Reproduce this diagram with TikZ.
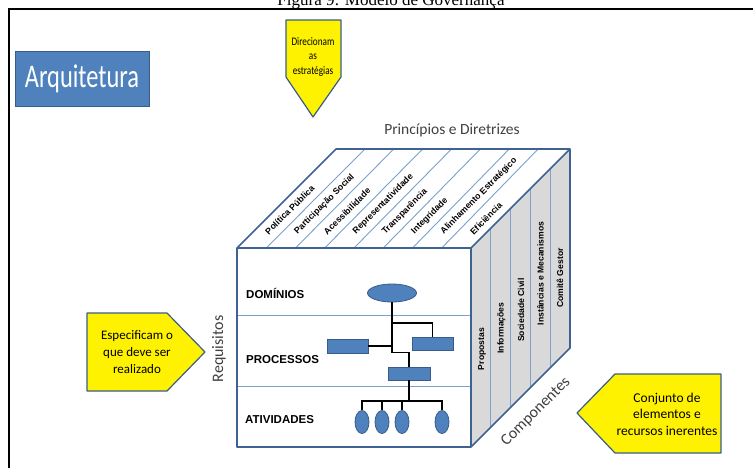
\documentclass[tikz,border=0pt]{standalone}
\usepackage{fontspec}
\setmainfont{Carlito}
\newfontfamily\arialf{Liberation Sans}
\newfontfamily\timesf{Liberation Serif}
\usetikzlibrary{shapes.geometric,calc}
\definecolor{cubeline}{RGB}{62,98,145}
\definecolor{stripline}{RGB}{125,160,205}
\definecolor{facegray}{RGB}{217,217,217}
\definecolor{boxblue}{RGB}{79,129,189}
\definecolor{boxedge}{RGB}{56,93,138}
\definecolor{textgray}{RGB}{64,64,64}

\begin{document}
\begin{tikzpicture}[x=1pt,y=-1pt,
  callout/.style={fill=yellow, draw=boxedge, line width=1.2pt, line join=round},
  calltext/.style={align=center, inner sep=0pt},
  toplabel/.style={rotate=45, anchor=west, inner sep=0pt, font=\arialf\bfseries\fontsize{8.8}{10}\selectfont},
  sidelabel/.style={rotate=90, inner sep=0pt, font=\arialf\bfseries\fontsize{8.6}{10}\selectfont},
  layer/.style={anchor=west, inner sep=0pt, font=\arialf\bfseries\fontsize{11.5}{13}\selectfont},
  blocknode/.style={draw=boxedge, fill=boxblue, line width=0.8pt, inner sep=0pt},
  link/.style={line width=1.6pt},
  axislabel/.style={text=textgray, inner sep=0pt, font=\fontsize{16}{18}\selectfont}]
 \useasboundingbox (0,0) rectangle (753,467);
 \clip (0,0) rectangle (753,467);

 \node (title) [anchor=base, font=\timesf\fontsize{17}{19}\selectfont] at (391,5) {Figura 9: Modelo de Governança};
 \draw[line width=2.6pt] (9,480) -- (9,9) -- (770,9);

 \node (arq) [draw=boxedge, fill=boxblue, line width=1pt, minimum width=134pt, minimum height=55pt] at (82,78.5) {};
 \node (arqtext) [text=white, xscale=.74, font=\fontsize{33}{36}\selectfont] at (arq.center) {Arquitetura};

 \coordinate (fa) at (237,248);
 \coordinate (fb) at (471,248);
 \coordinate (fc) at (471,447);
 \coordinate (fd) at (237,447);
 \coordinate (ba) at (336,149);
 \coordinate (bb) at (570,149);
 \coordinate (bc) at (570,348);

 \fill[white] (fa) -- (ba) -- (bb) -- (fb) -- cycle;
 \fill[facegray] (fb) -- (bb) -- (bc) -- (fc) -- cycle;
 \foreach \i in {1,...,7}
   \draw[stripline, line width=.9pt] ($(fa)+(\i*29.25,0)$) -- ($(ba)+(\i*28.875,0)$);
 \foreach \j in {1,...,4}
   \draw[stripline, line width=.9pt] ($(fb)+(\j*19.8,-\j*19.8)$) -- ($(fc)+(\j*19.8,-\j*19.8)$);
 \draw[stripline, line width=.9pt] (237,315) -- (471,315);
 \draw[stripline, line width=.9pt] (237,386) -- (471,386);
 \draw[cubeline, line width=1.6pt, line join=round] (fa) -- (ba) -- (bb) -- (bc) -- (fc) -- (fd) -- cycle (fa) -- (fb) -- (fc) (fb) -- (bb);

 \foreach \i/\txt in {0/Política Pública, 1/Participação Social, 2/Acessibilidade, 3/Representatividade,
                      4/Transparência, 5/Integridade, 6/Alinhamento Estratégico, 7/Eficiência}
   \node (p\i) [toplabel] at (237+\i*29.25+14.6+15, 248-15) {\txt};

 \node (c1) [sidelabel] at (482,349) {Propostas};
 \node (c2) [sidelabel] at (501.5,328) {Informações};
 \node (c3) [sidelabel] at (521,310) {Sociedade Civil};
 \node (c4) [sidelabel] at (540.5,273.5) {Instâncias e Mecanismos};
 \node (c5) [sidelabel] at (560,278) {Comitê Gestor};

 \node (l1) [layer] at (246,293) {DOMÍNIOS};
 \node (l2) [layer] at (246,360) {PROCESSOS};
 \node (l3) [layer] at (245,420) {ATIVIDADES};

 \node (dom) [blocknode, ellipse, minimum width=49pt, minimum height=18pt] at (392,293) {};
 \node (pl) [blocknode, minimum width=41pt, minimum height=14pt] at (347.5,346) {};
 \node (pr) [blocknode, minimum width=41pt, minimum height=13pt] at (432.5,343.5) {};
 \node (pm) [blocknode, minimum width=42pt, minimum height=13pt] at (409,373.5) {};
 \foreach \k/\x in {1/362, 2/382, 3/402, 4/442}
   \node (a\k) [blocknode, ellipse, minimum width=14pt, minimum height=23pt] at (\x,422) {};

 \draw[link] (dom.south) -- ++(0,50) -| (pm.north);
 \draw[link] (dom.south |- 0,323) -| (pr.north);
 \draw[link] (pl.east) -- (pl.east -| dom.south);
 \draw[link] (pm.south) -- (pm.south |- 0,401.5);
 \draw[link] (a1.north) -- ++(0,-9) -| (a4.north);
 \draw[link] (a2.north) -- ++(0,-9);
 \draw[link] (a3.north) -- ++(0,-9);

 \node (prin) [axislabel, font=\fontsize{15.5}{18}\selectfont] at (452,130) {Princípios e Diretrizes};
 \node (req) [axislabel, rotate=90] at (219,349) {Requisitos};
 \node (comp) [axislabel, rotate=45] at (536,412) {Componentes};

 \draw[callout] (286,20) -- (341,20) -- (341,77) -- (313,117) -- (286,77) -- cycle;
 \node (dir) [calltext, xscale=.8, font=\fontsize{11.5}{14.5}\selectfont] at (313,57) {Direcionam\\as\\estratégias};
 \draw[callout] (87,313) -- (167,313) -- (205,352) -- (167,391) -- (87,391) -- cycle;
 \node (esp) [calltext, font=\fontsize{13}{17}\selectfont] at (137,352) {Especificam o\\que deve ser\\realizado};
 \draw[callout] (577,413) -- (615,374) -- (721,374) -- (721,453) -- (615,453) -- cycle;
 \node (conj) [calltext, font=\fontsize{13.5}{16.5}\selectfont] at (667,414) {Conjunto de\\elementos e\\recursos inerentes};
\end{tikzpicture}
\end{document}
